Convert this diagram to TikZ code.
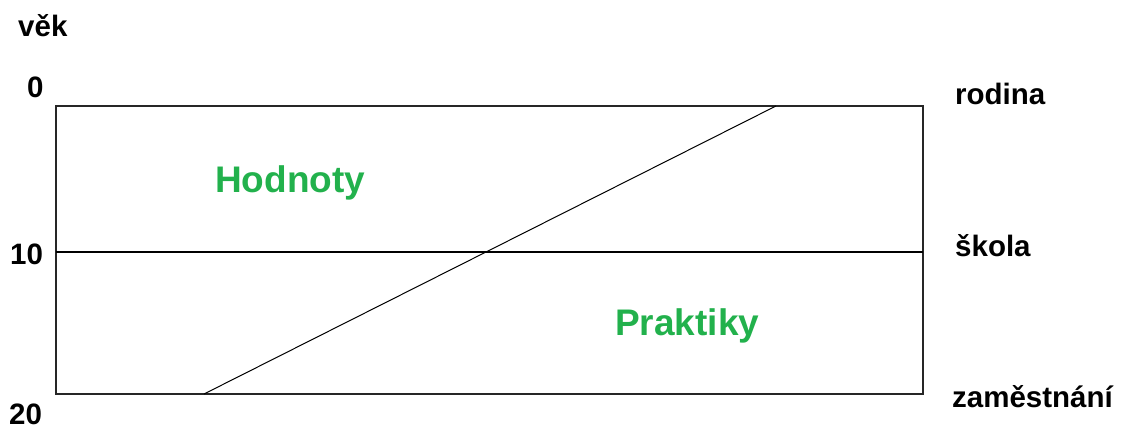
\documentclass[tikz,border=0pt]{standalone}
\usepackage{fontspec}
\setmainfont{Liberation Sans}
\definecolor{paintgreen}{RGB}{34,177,76}
\begin{document}
\begin{tikzpicture}[x=1pt,y=-1pt,
  lbl/.style={inner sep=0pt, anchor=base west, font=\bfseries\fontsize{29.5}{32}\selectfont},
  area/.style={inner sep=0pt, anchor=base west, text=paintgreen, font=\bfseries\fontsize{37}{40}\selectfont},
  frame/.style={draw=black!85, line width=2pt},
  rule/.style={draw=black, line width=1.3pt},
  slope/.style={draw=black, line width=1pt}]
\useasboundingbox (0,0) rectangle (1124,430);

% age scale
\node[lbl] (vek) at (18,37) {věk};
\node[lbl] (a0) at (27,98) {0};
\node[lbl] (a10) at (10,265) {10};
\node[lbl] (a20) at (9,424) {20};

% frame corners and divisions
\coordinate (tl) at (55.5,106);
\coordinate (br) at (923,394);
\coordinate (ml) at (55.5,252);
\coordinate (mr) at (923,252);
\coordinate (dlo) at (204,394);
\coordinate (dhi) at (776,106);

\draw[frame] (tl) rectangle (br);
\draw[rule] (ml) -- (mr);
\draw[slope] (dlo) -- (dhi);

% institutions
\node[lbl] (rodina) at (955,105) {rodina};
\node[lbl] (skola) at (955,257) {škola};
\node[lbl] (zam) at (952,407) {zaměstnání};

% areas
\node[area] (hod) at (215,193) {Hodnoty};
\node[area] (prak) at (615,335) {Praktiky};
\end{tikzpicture}
\end{document}
